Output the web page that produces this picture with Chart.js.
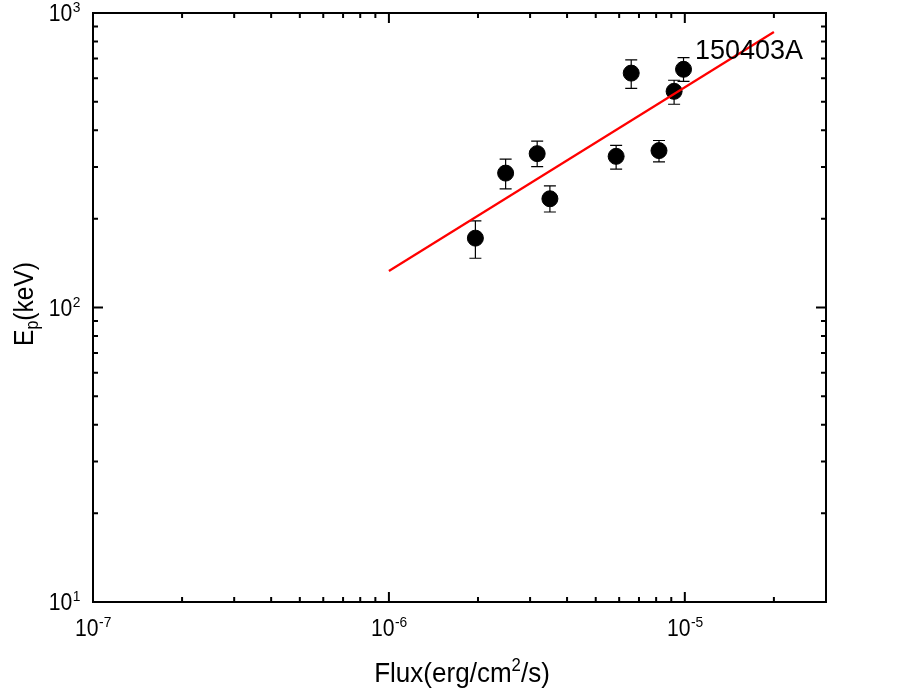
<!DOCTYPE html>
<html>
<head>
<meta charset="utf-8">
<script src="https://cdn.jsdelivr.net/npm/chart.js@4.4.0/dist/chart.umd.min.js"></script>
<style>
body { margin:0; background:#fff; }
#wrap { width:917px; height:695px; }
</style>
</head>
<body>
<div id="wrap"><canvas id="epChart" width="917" height="695"></canvas></div>
<script>
// 150403A: Ep vs flux
var flux = [1.96e-6, 2.48e-6, 3.17e-6, 3.50e-6, 5.86e-6, 6.59e-6, 8.18e-6, 9.20e-6, 9.90e-6];
var ep   = [172, 286, 333, 234, 326, 625, 341, 542, 644];
var epHi = [197, 319, 367, 259, 355, 693, 369, 591, 706];
var epLo = [147, 253, 301, 211, 295, 555, 312, 490, 586];
var fitFlux = [1e-6, 2e-5];
var fitEp = [133, 862];

var xTicks = [1e-7, 1e-6, 1e-5];
var xTickExp = ['-7', '-6', '-5'];
var yTicks = [10, 100, 1000];
var yTickExp = ['1', '2', '3'];
var grbName = '150403A';

var FONT = '"Liberation Sans", Arial, sans-serif';

function minorTicks(lo, hi){
    var out = [];
    for (var d = lo; d < hi; d *= 10) {
        for (var k = 2; k <= 9; k++) {
            if (k * d < hi * 1.0001) out.push(k * d);
        }
    }
    return out;
}

function drawPow(ctx, x, y, exp, align){
    // "10" with superscript exponent, y = baseline of "10"
    ctx.save();
    ctx.translate(x, y);
    ctx.scale(0.92, 1);
    ctx.font = '23px ' + FONT;
    var w1 = ctx.measureText('10').width;
    ctx.font = '15px ' + FONT;
    var w2 = ctx.measureText(exp).width;
    var left = align == 'center' ? -(w1 + w2) / 2 : -(w1 + w2);
    ctx.textAlign = 'left';
    ctx.textBaseline = 'alphabetic';
    ctx.font = '23px ' + FONT;
    ctx.fillText('10', left, 0);
    ctx.font = '15px ' + FONT;
    ctx.fillText(exp, left + w1 + 0.5, -9);
    ctx.restore();
}

var errPlugin = {
    id: 'errbars',
    beforeDatasetsDraw: function(chart){
        var ctx = chart.ctx, xs = chart.scales.x, ys = chart.scales.y;
        ctx.save();
        ctx.strokeStyle = '#000';
        ctx.lineWidth = 1.2;
        for (var i = 0; i < flux.length; i++) {
            var px = xs.getPixelForValue(flux[i]);
            var y1 = ys.getPixelForValue(epHi[i]);
            var y2 = ys.getPixelForValue(epLo[i]);
            ctx.beginPath();
            ctx.moveTo(px, y1); ctx.lineTo(px, y2);
            ctx.moveTo(px - 6, y1); ctx.lineTo(px + 6, y1);
            ctx.moveTo(px - 6, y2); ctx.lineTo(px + 6, y2);
            ctx.stroke();
        }
        ctx.restore();
    }
};

var framePlugin = {
    id: 'frame',
    afterDraw: function(chart){
        var ctx = chart.ctx, a = chart.chartArea;
        var xs = chart.scales.x, ys = chart.scales.y;
        ctx.save();
        ctx.strokeStyle = '#000';
        ctx.fillStyle = '#000';
        ctx.lineWidth = 2;
        ctx.strokeRect(a.left, a.top, a.right - a.left, a.bottom - a.top);

        // inward ticks on all four sides
        function xt(v, len){
            var p = xs.getPixelForValue(v);
            ctx.beginPath();
            ctx.moveTo(p, a.bottom); ctx.lineTo(p, a.bottom - len);
            ctx.moveTo(p, a.top); ctx.lineTo(p, a.top + len);
            ctx.stroke();
        }
        function yt(v, len){
            var p = ys.getPixelForValue(v);
            ctx.beginPath();
            ctx.moveTo(a.left, p); ctx.lineTo(a.left + len, p);
            ctx.moveTo(a.right, p); ctx.lineTo(a.right - len, p);
            ctx.stroke();
        }
        minorTicks(1e-7, 3e-5).forEach(function(v){ xt(v, 5); });
        xTicks.forEach(function(v){ xt(v, 10); });
        minorTicks(10, 1000).forEach(function(v){ yt(v, 5); });
        yTicks.forEach(function(v){ yt(v, 10); });

        // tick labels
        xTicks.forEach(function(v, i){
            drawPow(ctx, xs.getPixelForValue(v), a.bottom + 34, xTickExp[i], 'center');
        });
        yTicks.forEach(function(v, i){
            drawPow(ctx, a.left - 13, ys.getPixelForValue(v) + 8, yTickExp[i], 'right');
        });

        // x title
        ctx.save();
        ctx.translate(462, 682);
        ctx.scale(0.93, 1);
        ctx.font = '28px ' + FONT;
        var parts = ['Flux(erg/cm', '2', '/s)'];
        var w0 = ctx.measureText(parts[0]).width;
        var w2 = ctx.measureText(parts[2]).width;
        ctx.font = '18px ' + FONT;
        var w1 = ctx.measureText(parts[1]).width;
        var x0 = -(w0 + w1 + w2) / 2;
        ctx.textAlign = 'left';
        ctx.font = '28px ' + FONT;
        ctx.fillText(parts[0], x0, 0);
        ctx.font = '18px ' + FONT;
        ctx.fillText(parts[1], x0 + w0, -11);
        ctx.font = '28px ' + FONT;
        ctx.fillText(parts[2], x0 + w0 + w1, 0);
        ctx.restore();

        // y title
        ctx.save();
        ctx.translate(33, 304);
        ctx.rotate(-Math.PI / 2);
        ctx.scale(0.88, 1);
        ctx.font = '28px ' + FONT;
        var e0 = ctx.measureText('E').width;
        var e2 = ctx.measureText('(keV)').width;
        ctx.font = '18px ' + FONT;
        var e1 = ctx.measureText('p').width;
        var y0 = -(e0 + e1 + e2) / 2;
        ctx.textAlign = 'left';
        ctx.font = '28px ' + FONT;
        ctx.fillText('E', y0, 0);
        ctx.font = '18px ' + FONT;
        ctx.fillText('p', y0 + e0, 5);
        ctx.font = '28px ' + FONT;
        ctx.fillText('(keV)', y0 + e0 + e1, 0);
        ctx.restore();

        // burst name
        ctx.font = '27px ' + FONT;
        ctx.textAlign = 'left';
        ctx.fillText(grbName, 695, 59);
        ctx.restore();
    }
};

var pts = flux.map(function(f, i){ return {x: f, y: ep[i]}; });
var fitPts = fitFlux.map(function(f, i){ return {x: f, y: fitEp[i]}; });

var ctx = document.getElementById('epChart').getContext('2d');
var myChart = new Chart(ctx, {
    type: 'scatter',
    data: {
        datasets: [{
            type: 'line',
            label: 'fit',
            data: fitPts,
            borderColor: '#ff0000',
            borderWidth: 2.2,
            pointRadius: 0,
            fill: false
        }, {
            label: '150403A',
            data: pts,
            backgroundColor: '#000',
            borderColor: '#000',
            pointRadius: 8,
            pointHoverRadius: 8
        }]
    },
    options: {
        responsive: false,
        animation: false,
        events: [],
        layout: { padding: { left: 93, right: 91, top: 13, bottom: 93 } },
        plugins: {
            legend: { display: false },
            tooltip: { enabled: false },
            title: { display: false }
        },
        scales: {
            x: {
                type: 'logarithmic',
                min: 1e-7,
                max: 3e-5,
                grid: { display: false },
                border: { display: false },
                ticks: { display: false },
                title: { display: false },
                afterFit: function(s){ s.height = 0; }
            },
            y: {
                type: 'logarithmic',
                min: 10,
                max: 1000,
                grid: { display: false },
                border: { display: false },
                ticks: { display: false },
                title: { display: false },
                afterFit: function(s){ s.width = 0; }
            }
        }
    },
    plugins: [errPlugin, framePlugin]
});
</script>
</body>
</html>
